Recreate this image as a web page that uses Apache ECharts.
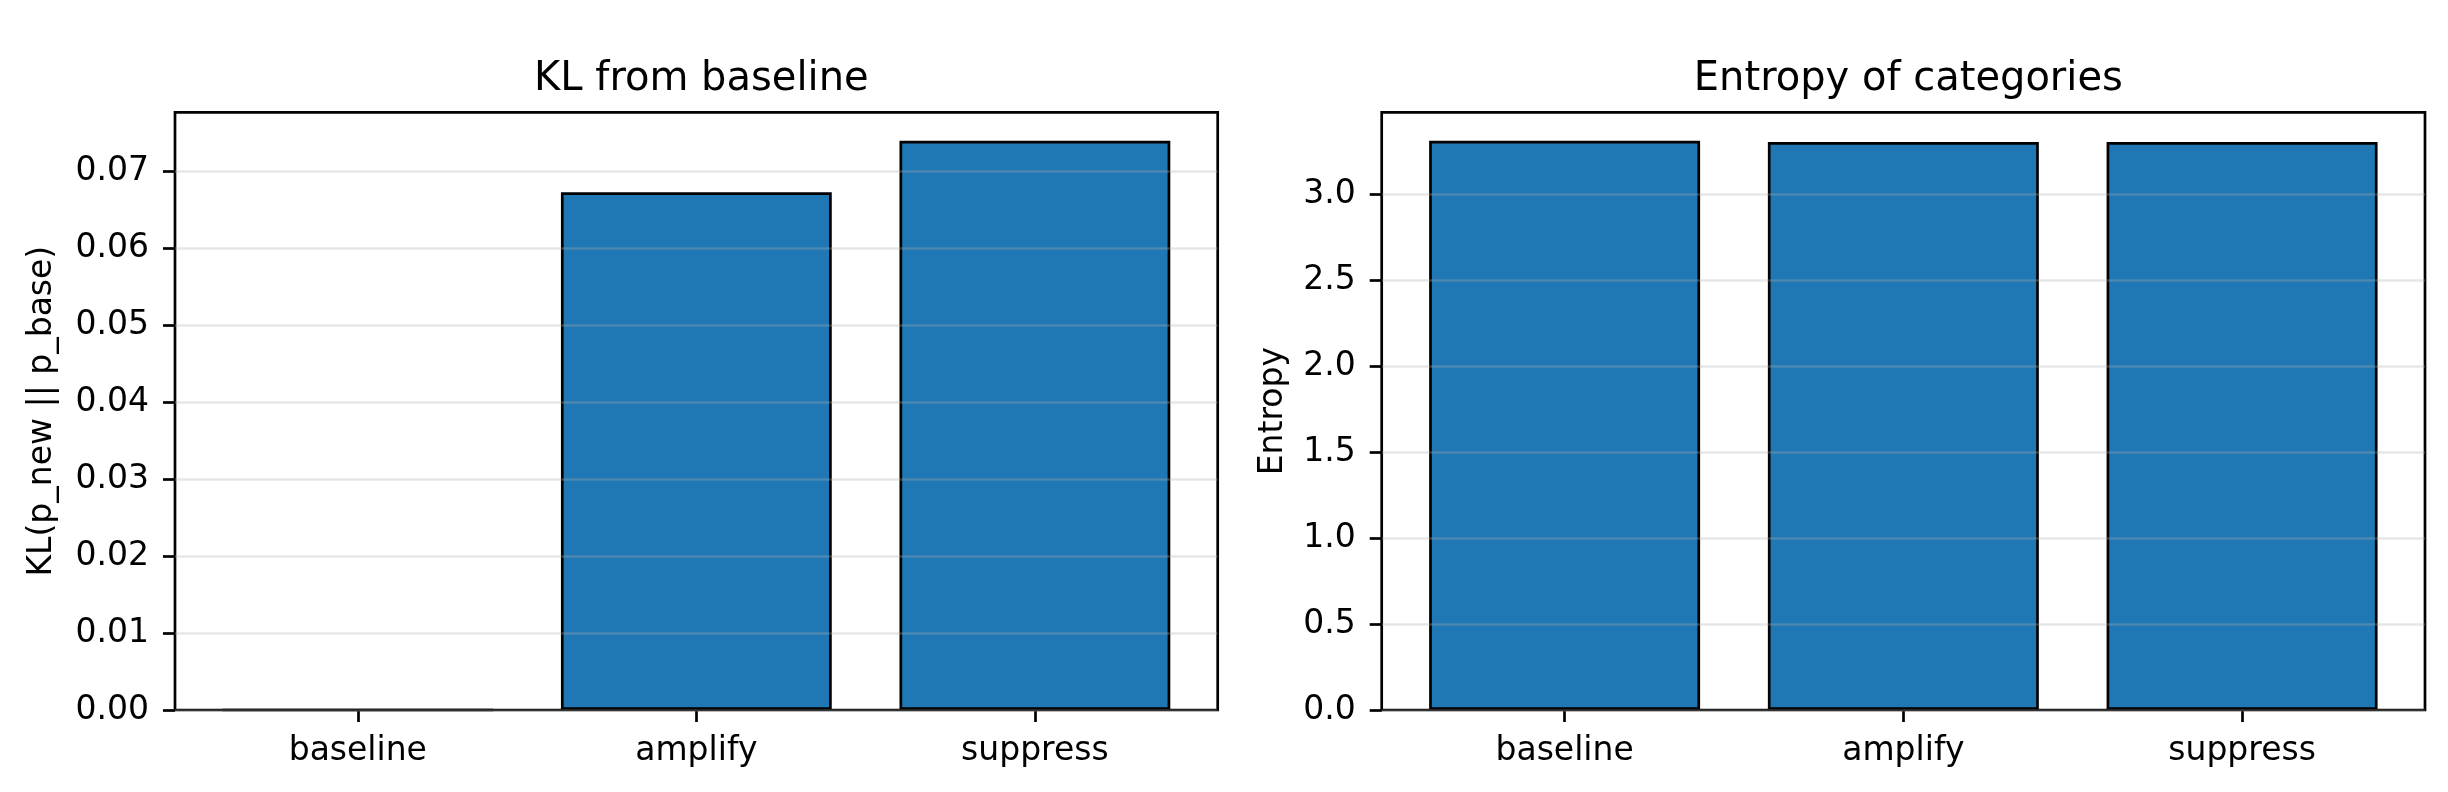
<!DOCTYPE html>
<html>
<head>
<meta charset="utf-8">
<script src="https://cdn.jsdelivr.net/npm/echarts@6/dist/echarts.min.js"></script>
<style>
html,body{margin:0;padding:0;background:#fff;}
#chart{width:2448px;height:792px;}
</style>
</head>
<body>
<div id="chart"></div>
<script>
const categories = ['baseline', 'amplify', 'suppress'];
const klValues = [0, 0.0673, 0.0740];
const entropyValues = [3.309, 3.302, 3.302];
const klTicks = [0, 0.01, 0.02, 0.03, 0.04, 0.05, 0.06, 0.07];
const entropyTicks = [0, 0.5, 1.0, 1.5, 2.0, 2.5, 3.0];
const klMax = 0.0777;
const entropyMax = 3.475;
const titles = ['KL from baseline', 'Entropy of categories'];
const yNames = ['KL(p_new || p_base)', 'Entropy'];

const FONT = 'DejaVu Sans';
const BAR = '#1f77b4';
const LW = 2.7;

// frame positions (px)
const frames = [
  {left: 175, top: 112.3, width: 1042.7, height: 597.7},
  {left: 1381.7, top: 112.3, width: 1043.3, height: 597.7}
];
// matplotlib x-limits: [-0.54, 2.54] for 3 bars of width 0.8 -> inner inset
function inner(f) {
  const inset = f.width * 0.04 / 3.08;
  return {left: f.left + inset, top: f.top, width: f.width - 2 * inset, height: f.height};
}

const chart = echarts.init(document.getElementById('chart'), null, {renderer: 'canvas', width: 2448, height: 792});

function frameYAxis(gi, max, ticks, fmt, name, gap) {
  return {
    type: 'value', gridIndex: gi, min: 0, max: max, z: 5,
    name: name, nameLocation: 'middle', nameGap: gap,
    nameTextStyle: {fontFamily: FONT, fontSize: 33, color: '#000'},
    axisLine: {show: false},
    axisTick: {show: true, length: 12, inside: false, customValues: ticks, lineStyle: {color: '#000', width: LW}},
    axisLabel: {show: true, margin: 26, customValues: ticks, formatter: fmt, fontFamily: FONT, fontSize: 33, color: '#000'},
    splitLine: {show: true, lineStyle: {color: 'rgba(176,176,176,0.3)', width: 2.7}}
  };
}
function hiddenY(gi, max) {
  return {type: 'value', gridIndex: gi, min: 0, max: max, show: false, splitLine: {show: false}};
}
function catX(gi) {
  return {
    type: 'category', gridIndex: gi, data: categories, boundaryGap: true,
    axisLine: {show: false},
    axisTick: {show: true, alignWithLabel: true, length: 12, lineStyle: {color: '#000', width: LW}},
    axisLabel: {margin: 25, fontFamily: FONT, fontSize: 33, color: '#000'},
    splitLine: {show: false}
  };
}

const option = {
  backgroundColor: '#fff',
  animation: false,
  title: [
    {text: titles[0], left: frames[0].left + frames[0].width / 2, top: 55, textAlign: 'center',
     textStyle: {fontFamily: FONT, fontSize: 40, fontWeight: 'normal', color: '#000'}},
    {text: titles[1], left: frames[1].left + frames[1].width / 2, top: 55, textAlign: 'center',
     textStyle: {fontFamily: FONT, fontSize: 40, fontWeight: 'normal', color: '#000'}}
  ],
  grid: [
    Object.assign({show: true, borderColor: '#000', borderWidth: LW, backgroundColor: 'transparent'}, frames[0]),
    Object.assign({show: true, borderColor: '#000', borderWidth: LW, backgroundColor: 'transparent'}, frames[1]),
    Object.assign({show: false}, inner(frames[0])),
    Object.assign({show: false}, inner(frames[1]))
  ],
  xAxis: [
    {type: 'value', gridIndex: 0, min: 0, max: 1, show: false},
    {type: 'value', gridIndex: 1, min: 0, max: 1, show: false},
    catX(2),
    catX(3)
  ],
  yAxis: [
    frameYAxis(0, klMax, klTicks, v => v.toFixed(2), yNames[0], 116),
    frameYAxis(1, entropyMax, entropyTicks, v => v.toFixed(1), yNames[1], 92),
    hiddenY(2, klMax),
    hiddenY(3, entropyMax)
  ],
  series: [
    {type: 'bar', xAxisIndex: 2, yAxisIndex: 2, data: klValues, barWidth: '80%',
     itemStyle: {color: BAR, borderColor: '#000', borderWidth: LW}},
    {type: 'bar', xAxisIndex: 3, yAxisIndex: 3, data: entropyValues, barWidth: '80%',
     itemStyle: {color: BAR, borderColor: '#000', borderWidth: LW}}
  ]
};
chart.setOption(option);
</script>
</body>
</html>
